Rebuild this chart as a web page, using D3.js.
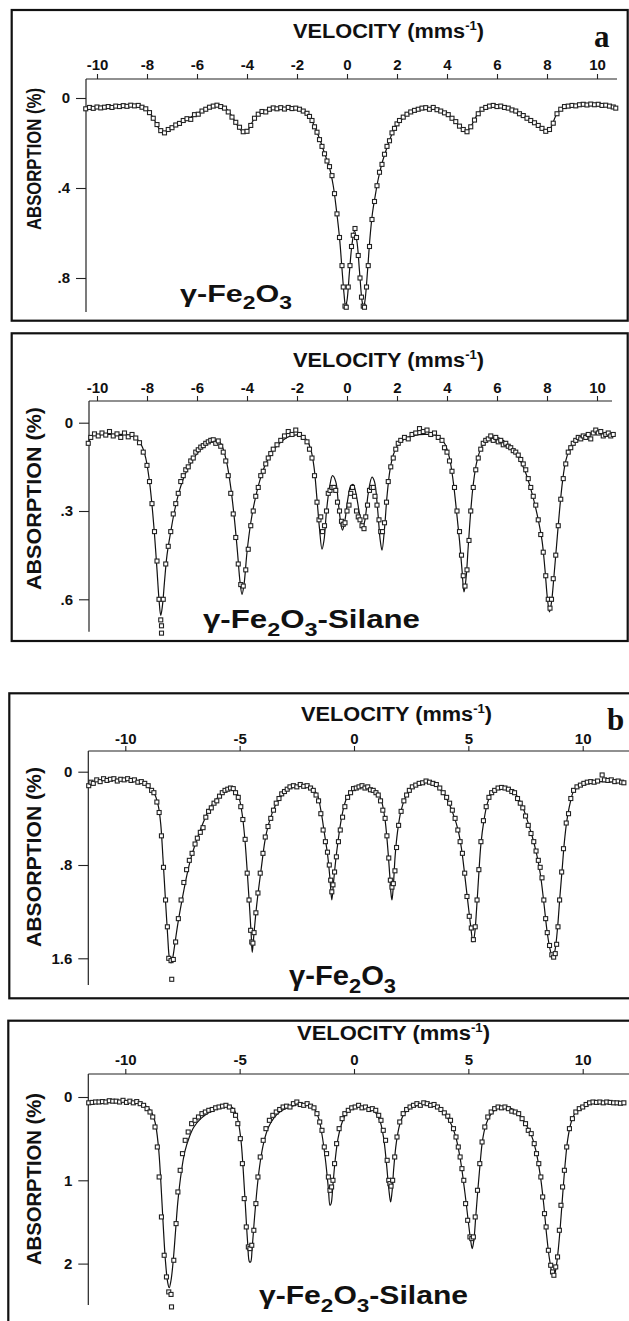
<!DOCTYPE html>
<html>
<head>
<meta charset="utf-8">
<script src="https://cdn.jsdelivr.net/npm/d3@7"></script>
<style>
  html, body { margin: 0; padding: 0; background: #fff; }
  svg { display: block; }
  text { font-family: "Liberation Sans", Arial, sans-serif; font-weight: bold; fill: #111; }
  .letter { font-family: "Liberation Serif", "Times New Roman", serif; }
</style>
</head>
<body>
<svg id="chart" width="629" height="1321"></svg>
<script>
// tick values
const velTicksA = [-10, -8, -6, -4, -2, 0, 2, 4, 6, 8, 10];
const velTicksB = [-10, -5, 0, 5, 10];
const absTicksA1 = [0, 0.4, 0.8];
const absTicksA2 = [0, 0.3, 0.6];
const absTicksB1 = [0, 0.8, 1.6];
const absTicksB2 = [0, 1, 2];

// (a) gamma-Fe2O3 : fitted curve and measured points, [velocity mm/s, absorption %]
const fitA1 = [[-10.45,.045],[-10,.043],[-9.5,.04],[-9,.036],[-8.5,.034],[-8.2,.037],[-8,.05],[-7.8,.08],[-7.6,.12],[-7.45,.148],[-7.35,.152],[-7.2,.146],[-7,.13],[-6.7,.11],[-6.4,.094],[-6,.07],[-5.6,.046],[-5.2,.035],[-4.95,.037],[-4.7,.065],[-4.45,.11],[-4.25,.143],[-4.1,.152],[-3.95,.14],[-3.75,.1],[-3.5,.068],[-3.1,.05],[-2.6,.044],[-2.1,.045],[-1.8,.055],[-1.55,.075],[-1.3,.125],[-1.1,.18],[-0.9,.245],[-0.7,.31],[-0.55,.39],[-0.42,.5],[-0.3,.62],[-0.2,.76],[-0.12,.87],[-0.06,.925],[0,.9],[0.1,.77],[0.2,.65],[0.3,.59],[0.4,.64],[0.5,.77],[0.6,.9],[0.66,.93],[0.72,.9],[0.82,.77],[0.92,.62],[1.02,.51],[1.12,.44],[1.25,.36],[1.4,.29],[1.6,.22],[1.8,.16],[2.0,.12],[2.3,.083],[2.7,.056],[3.2,.045],[3.6,.05],[4.0,.07],[4.3,.1],[4.55,.132],[4.75,.15],[4.95,.128],[5.15,.085],[5.4,.05],[5.8,.035],[6.2,.04],[6.6,.055],[7.0,.08],[7.4,.105],[7.8,.135],[8.0,.146],[8.15,.132],[8.35,.08],[8.6,.045],[9.0,.035],[9.5,.03],[10,.03],[10.4,.035],[10.8,.045]];
const ptsA1 = [[-10.45,.048],[-10.3,.042],[-10.15,.046],[-10,.04],[-9.85,.044],[-9.7,.041],[-9.55,.038],[-9.4,.042],[-9.25,.036],[-9.1,.038],[-8.95,.034],[-8.8,.037],[-8.65,.032],[-8.5,.035],[-8.35,.033],[-8.2,.041],[-8.05,.048],[-7.9,.065],[-7.75,.09],[-7.6,.118],[-7.45,.145],[-7.3,.155],[-7.15,.14],[-7,.132],[-6.85,.12],[-6.7,.113],[-6.55,.1],[-6.4,.092],[-6.25,.095],[-6.1,.074],[-5.95,.072],[-5.8,.058],[-5.65,.05],[-5.5,.041],[-5.35,.036],[-5.2,.032],[-5.05,.038],[-4.9,.045],[-4.75,.062],[-4.6,.085],[-4.45,.108],[-4.3,.13],[-4.15,.15],[-4,.148],[-3.85,.122],[-3.7,.09],[-3.55,.072],[-3.4,.06],[-3.25,.062],[-3.1,.05],[-2.95,.044],[-2.8,.048],[-2.65,.043],[-2.5,.049],[-2.35,.042],[-2.2,.047],[-2.05,.045],[-1.9,.05],[-1.75,.058],[-1.6,.068],[-1.5,.082],[-1.4,.1],[-1.3,.128],[-1.2,.152],[-1.1,.185],[-1,.215],[-0.9,.248],[-0.8,.28],[-0.7,.305],[-0.6,.345],[-0.5,.425],[-0.4,.515],[-0.3,.62],[-0.2,.745],[-0.15,.84],[-0.08,.925],[-0.03,.93],[0.05,.84],[0.12,.745],[0.18,.66],[0.25,.61],[0.32,.58],[0.38,.62],[0.45,.7],[0.52,.8],[0.58,.885],[0.65,.925],[0.7,.93],[0.78,.84],[0.85,.745],[0.9,.66],[1,.54],[1.1,.46],[1.2,.39],[1.3,.33],[1.4,.295],[1.5,.25],[1.6,.215],[1.7,.19],[1.8,.155],[1.9,.135],[2,.115],[2.1,.1],[2.25,.085],[2.4,.072],[2.55,.062],[2.7,.055],[2.85,.05],[3,.045],[3.15,.043],[3.3,.05],[3.45,.042],[3.6,.052],[3.75,.058],[3.9,.066],[4.05,.074],[4.2,.09],[4.35,.105],[4.5,.125],[4.65,.14],[4.8,.15],[4.95,.128],[5.1,.098],[5.25,.07],[5.4,.05],[5.55,.042],[5.7,.036],[5.85,.033],[6,.038],[6.15,.036],[6.3,.042],[6.45,.045],[6.6,.053],[6.75,.058],[6.9,.07],[7.05,.078],[7.2,.09],[7.35,.1],[7.5,.11],[7.65,.122],[7.8,.135],[7.95,.148],[8.1,.14],[8.25,.112],[8.4,.07],[8.55,.05],[8.7,.038],[8.85,.036],[9,.033],[9.15,.035],[9.3,.03],[9.45,.028],[9.6,.031],[9.75,.027],[9.9,.03],[10.05,.028],[10.2,.033],[10.35,.032],[10.5,.036],[10.65,.04],[10.75,.045]];

// (a) gamma-Fe2O3-Silane
const fitA2 = [[-10.35,.07],[-10.2,.045],[-9.8,.04],[-9.2,.04],[-8.7,.042],[-8.4,.055],[-8.2,.08],[-8.05,.12],[-7.9,.2],[-7.8,.28],[-7.7,.38],[-7.6,.5],[-7.52,.6],[-7.45,.655],[-7.38,.62],[-7.3,.54],[-7.2,.45],[-7.05,.37],[-6.9,.3],[-6.7,.23],[-6.5,.18],[-6.2,.13],[-5.9,.095],[-5.6,.072],[-5.3,.06],[-5.1,.065],[-4.95,.09],[-4.8,.14],[-4.65,.22],[-4.5,.33],[-4.38,.44],[-4.28,.54],[-4.2,.583],[-4.12,.55],[-4,.44],[-3.85,.34],[-3.7,.27],[-3.5,.2],[-3.3,.15],[-3,.1],[-2.7,.07],[-2.4,.05],[-2.1,.042],[-1.8,.045],[-1.6,.06],[-1.45,.09],[-1.32,.15],[-1.2,.26],[-1.1,.36],[-1,.43],[-0.92,.4],[-0.82,.3],[-0.7,.22],[-0.58,.18],[-0.45,.2],[-0.35,.27],[-0.25,.34],[-0.18,.365],[-0.08,.33],[0.05,.25],[0.15,.215],[0.25,.21],[0.38,.25],[0.5,.31],[0.62,.36],[0.72,.33],[0.85,.24],[1,.185],[1.1,.2],[1.22,.29],[1.33,.4],[1.4,.433],[1.5,.36],[1.6,.25],[1.72,.16],[1.85,.11],[2,.08],[2.3,.055],[2.7,.043],[3.2,.04],[3.6,.045],[3.9,.07],[4.1,.12],[4.25,.2],[4.38,.3],[4.5,.4],[4.6,.5],[4.68,.575],[4.76,.53],[4.85,.42],[4.95,.3],[5.05,.21],[5.2,.13],[5.4,.08],[5.7,.055],[6,.05],[6.4,.07],[6.8,.11],[7.1,.16],[7.4,.24],[7.6,.31],[7.8,.4],[7.92,.5],[8.02,.6],[8.1,.643],[8.18,.61],[8.28,.52],[8.38,.42],[8.5,.3],[8.62,.2],[8.75,.13],[8.95,.08],[9.2,.055],[9.6,.04],[10,.035],[10.7,.04]];
const ptsA2 = [[-10.35,.07],[-10.25,.05],[-10.1,.038],[-9.95,.045],[-9.8,.035],[-9.65,.042],[-9.5,.03],[-9.35,.045],[-9.2,.038],[-9.05,.05],[-8.9,.035],[-8.75,.048],[-8.6,.04],[-8.45,.052],[-8.3,.068],[-8.15,.1],[-8,.145],[-7.9,.2],[-7.8,.275],[-7.7,.37],[-7.6,.47],[-7.52,.6],[-7.45,.67],[-7.42,.69],[-7.42,.715],[-7.35,.6],[-7.25,.48],[-7.15,.42],[-7.05,.37],[-6.95,.31],[-6.85,.275],[-6.75,.24],[-6.65,.2],[-6.55,.18],[-6.45,.16],[-6.35,.15],[-6.25,.13],[-6.15,.12],[-6.05,.1],[-5.95,.092],[-5.85,.083],[-5.75,.078],[-5.65,.07],[-5.55,.065],[-5.45,.06],[-5.35,.058],[-5.25,.07],[-5.15,.062],[-5.05,.08],[-4.95,.1],[-4.85,.13],[-4.75,.18],[-4.65,.24],[-4.55,.31],[-4.45,.39],[-4.35,.48],[-4.25,.55],[-4.15,.555],[-4.05,.5],[-3.95,.43],[-3.85,.35],[-3.75,.3],[-3.65,.25],[-3.55,.22],[-3.45,.18],[-3.35,.165],[-3.25,.14],[-3.15,.12],[-3.05,.105],[-2.95,.09],[-2.8,.075],[-2.65,.06],[-2.5,.045],[-2.35,.03],[-2.2,.04],[-2.05,.025],[-1.9,.04],[-1.75,.05],[-1.6,.065],[-1.5,.09],[-1.4,.12],[-1.3,.18],[-1.2,.27],[-1.12,.33],[-1.05,.32],[-0.98,.37],[-0.9,.35],[-0.82,.3],[-0.75,.24],[-0.68,.23],[-0.6,.22],[-0.52,.22],[-0.45,.23],[-0.38,.27],[-0.3,.3],[-0.22,.335],[-0.15,.345],[-0.08,.34],[0,.3],[0.08,.28],[0.15,.24],[0.22,.22],[0.3,.25],[0.38,.3],[0.45,.32],[0.52,.33],[0.6,.35],[0.68,.36],[0.75,.32],[0.82,.28],[0.9,.23],[0.98,.22],[1.05,.22],[1.12,.25],[1.2,.28],[1.28,.33],[1.35,.37],[1.42,.37],[1.5,.34],[1.58,.27],[1.65,.2],[1.75,.15],[1.85,.12],[1.95,.09],[2.05,.07],[2.15,.06],[2.3,.05],[2.45,.055],[2.6,.04],[2.75,.035],[2.9,.02],[3.05,.03],[3.2,.025],[3.35,.04],[3.5,.035],[3.65,.05],[3.8,.06],[3.9,.085],[4,.1],[4.1,.13],[4.2,.165],[4.3,.22],[4.4,.3],[4.5,.37],[4.58,.45],[4.65,.52],[4.72,.555],[4.8,.5],[4.88,.4],[4.95,.3],[5.05,.22],[5.15,.16],[5.25,.12],[5.35,.09],[5.45,.07],[5.55,.06],[5.65,.055],[5.75,.045],[5.85,.06],[5.95,.05],[6.05,.065],[6.15,.06],[6.25,.075],[6.35,.07],[6.45,.08],[6.55,.085],[6.65,.095],[6.75,.1],[6.85,.11],[6.95,.125],[7.05,.14],[7.15,.16],[7.25,.19],[7.35,.22],[7.45,.25],[7.55,.28],[7.65,.33],[7.75,.38],[7.85,.44],[7.95,.52],[8.05,.6],[8.12,.63],[8.18,.6],[8.25,.53],[8.35,.45],[8.45,.35],[8.55,.26],[8.65,.19],[8.75,.14],[8.85,.1],[8.95,.085],[9.05,.07],[9.15,.06],[9.25,.05],[9.35,.055],[9.45,.045],[9.55,.05],[9.65,.04],[9.75,.055],[9.85,.035],[9.95,.025],[10.05,.035],[10.15,.03],[10.25,.045],[10.35,.04],[10.45,.035],[10.55,.045],[10.65,.04]];

// (b) gamma-Fe2O3
const fitB1 = [[-11.6,.11],[-11.3,.08],[-10.8,.07],[-10.2,.065],[-9.6,.075],[-9.2,.1],[-8.9,.15],[-8.7,.2],[-8.55,.3],[-8.45,.45],[-8.35,.75],[-8.25,1.08],[-8.15,1.4],[-8.07,1.6],[-8,1.64],[-7.93,1.6],[-7.85,1.5],[-7.7,1.3],[-7.5,1.08],[-7.3,.88],[-7.1,.72],[-6.85,.57],[-6.6,.44],[-6.3,.31],[-6,.23],[-5.7,.17],[-5.45,.145],[-5.25,.15],[-5.05,.21],[-4.9,.35],[-4.78,.56],[-4.67,.85],[-4.58,1.12],[-4.5,1.38],[-4.45,1.55],[-4.4,1.45],[-4.3,1.23],[-4.2,1.05],[-4.05,.82],[-3.9,.6],[-3.75,.46],[-3.55,.34],[-3.3,.24],[-3,.17],[-2.7,.135],[-2.3,.12],[-2,.125],[-1.8,.15],[-1.6,.2],[-1.45,.33],[-1.3,.52],[-1.15,.72],[-1.05,.92],[-0.97,1.1],[-0.9,.96],[-0.8,.76],[-0.7,.6],[-0.6,.46],[-0.5,.35],[-0.35,.24],[-0.15,.17],[0.1,.13],[0.4,.125],[0.7,.14],[1,.17],[1.2,.25],[1.35,.4],[1.47,.64],[1.56,.88],[1.62,1.05],[1.66,1.1],[1.72,.98],[1.8,.72],[1.9,.52],[2.05,.34],[2.25,.22],[2.5,.14],[2.9,.1],[3.3,.09],[3.6,.12],[3.85,.17],[4.1,.25],[4.35,.37],[4.55,.5],[4.7,.66],[4.85,.9],[4.98,1.12],[5.1,1.32],[5.2,1.46],[5.27,1.4],[5.36,1.18],[5.45,.9],[5.55,.62],[5.68,.42],[5.82,.28],[6,.19],[6.3,.14],[6.55,.13],[6.8,.15],[7.1,.2],[7.35,.29],[7.6,.43],[7.8,.56],[8,.72],[8.15,.88],[8.3,1.12],[8.45,1.38],[8.58,1.53],[8.7,1.6],[8.8,1.52],[8.9,1.34],[9,1.08],[9.1,.84],[9.2,.6],[9.3,.43],[9.45,.27],[9.6,.17],[9.9,.115],[10.4,.09],[11,.085],[11.8,.09]];
const ptsB1 = [[-11.6,.12],[-11.5,.09],[-11.4,.1],[-11.25,.07],[-11.1,.085],[-10.95,.06],[-10.8,.075],[-10.65,.065],[-10.5,.06],[-10.35,.08],[-10.2,.065],[-10.05,.07],[-9.9,.06],[-9.75,.075],[-9.6,.07],[-9.45,.09],[-9.3,.085],[-9.15,.1],[-9,.12],[-8.85,.16],[-8.75,.18],[-8.62,.26],[-8.52,.35],[-8.42,.55],[-8.33,.82],[-8.24,1.1],[-8.16,1.33],[-8.1,1.6],[-8,1.62],[-7.97,1.78],[-7.9,1.61],[-7.8,1.46],[-7.68,1.26],[-7.56,1.1],[-7.44,.95],[-7.32,.84],[-7.2,.76],[-7.08,.7],[-6.95,.62],[-6.85,.57],[-6.72,.52],[-6.6,.48],[-6.48,.39],[-6.36,.34],[-6.24,.31],[-6.12,.27],[-6,.25],[-5.88,.21],[-5.76,.18],[-5.64,.16],[-5.52,.15],[-5.4,.14],[-5.28,.145],[-5.18,.18],[-5.06,.22],[-4.95,.3],[-4.86,.41],[-4.76,.58],[-4.67,.87],[-4.59,1.1],[-4.52,1.36],[-4.47,1.46],[-4.42,1.47],[-4.37,1.38],[-4.29,1.21],[-4.2,1.04],[-4.1,.87],[-3.98,.7],[-3.88,.56],[-3.76,.47],[-3.64,.4],[-3.52,.33],[-3.4,.27],[-3.28,.23],[-3.16,.19],[-3.04,.17],[-2.92,.15],[-2.8,.13],[-2.65,.12],[-2.5,.13],[-2.35,.11],[-2.2,.125],[-2.05,.12],[-1.9,.14],[-1.78,.16],[-1.66,.2],[-1.55,.25],[-1.45,.36],[-1.35,.5],[-1.25,.6],[-1.16,.69],[-1.08,.8],[-1.02,.93],[-0.97,1.03],[-0.92,.97],[-0.85,.86],[-0.77,.73],[-0.68,.6],[-0.6,.5],[-0.5,.39],[-0.4,.3],[-0.28,.22],[-0.15,.18],[-0.02,.145],[0.1,.14],[0.22,.13],[0.35,.12],[0.48,.14],[0.6,.13],[0.72,.155],[0.84,.16],[0.96,.18],[1.06,.2],[1.16,.25],[1.26,.33],[1.36,.4],[1.44,.55],[1.52,.74],[1.59,.93],[1.66,.99],[1.72,.96],[1.79,.85],[1.86,.65],[1.95,.46],[2.06,.34],[2.18,.25],[2.3,.2],[2.42,.16],[2.55,.13],[2.7,.115],[2.85,.1],[3,.095],[3.15,.08],[3.3,.09],[3.45,.1],[3.6,.11],[3.75,.14],[3.9,.18],[4.05,.22],[4.18,.27],[4.3,.33],[4.42,.4],[4.54,.5],[4.64,.6],[4.74,.7],[4.84,.87],[4.94,1.07],[5.04,1.24],[5.13,1.34],[5.22,1.44],[5.3,1.33],[5.38,1.1],[5.46,.84],[5.55,.6],[5.66,.42],[5.78,.3],[5.9,.22],[6.02,.18],[6.15,.16],[6.3,.14],[6.45,.135],[6.6,.14],[6.75,.15],[6.9,.17],[7.02,.18],[7.15,.23],[7.27,.27],[7.38,.31],[7.5,.38],[7.62,.46],[7.74,.53],[7.86,.6],[7.96,.68],[8.06,.76],[8.14,.82],[8.22,.91],[8.3,1.1],[8.38,1.26],[8.45,1.38],[8.55,1.49],[8.65,1.57],[8.73,1.59],[8.8,1.56],[8.86,1.48],[8.92,1.33],[8.99,1.1],[9.08,.86],[9.16,.66],[9.28,.44],[9.38,.36],[9.48,.23],[9.6,.16],[9.75,.13],[9.9,.115],[10.05,.1],[10.2,.09],[10.35,.085],[10.5,.09],[10.65,.08],[10.85,.028],[10.95,.07],[11.1,.075],[11.25,.07],[11.4,.085],[11.55,.08],[11.7,.09],[11.8,.095]];

// (b) gamma-Fe2O3-Silane
const fitB2 = [[-11.6,.06],[-11,.05],[-10.2,.05],[-9.6,.06],[-9.2,.09],[-8.9,.16],[-8.7,.3],[-8.55,.6],[-8.45,1],[-8.35,1.5],[-8.25,1.95],[-8.15,2.22],[-8.08,2.29],[-8,2.2],[-7.9,1.95],[-7.8,1.6],[-7.7,1.25],[-7.55,.9],[-7.4,.66],[-7.2,.48],[-7,.36],[-6.7,.26],[-6.3,.18],[-5.9,.13],[-5.5,.11],[-5.3,.13],[-5.1,.25],[-4.95,.5],[-4.85,.85],[-4.75,1.3],[-4.65,1.75],[-4.57,1.98],[-4.52,1.98],[-4.45,1.8],[-4.35,1.45],[-4.22,1.05],[-4.1,.78],[-3.95,.55],[-3.75,.37],[-3.5,.25],[-3.2,.17],[-2.8,.12],[-2.4,.09],[-2,.1],[-1.75,.14],[-1.55,.25],[-1.4,.45],[-1.25,.75],[-1.12,1.1],[-1.05,1.3],[-1,1.28],[-0.92,1.05],[-0.82,.75],[-0.7,.5],[-0.55,.33],[-0.35,.2],[-0.1,.14],[0.3,.12],[0.7,.14],[0.95,.19],[1.15,.3],[1.3,.5],[1.42,.8],[1.52,1.1],[1.6,1.26],[1.66,1.15],[1.74,.85],[1.85,.55],[2,.33],[2.2,.2],[2.5,.13],[3,.09],[3.5,.1],[3.85,.17],[4.2,.3],[4.45,.48],[4.65,.75],[4.85,1.15],[5,1.5],[5.1,1.72],[5.17,1.82],[5.24,1.72],[5.32,1.45],[5.42,1.1],[5.52,.78],[5.62,.52],[5.75,.35],[5.95,.22],[6.3,.13],[6.7,.12],[7.1,.18],[7.4,.28],[7.7,.42],[7.95,.64],[8.15,.95],[8.3,1.3],[8.42,1.65],[8.55,1.95],[8.68,2.12],[8.76,2.13],[8.85,2.02],[8.95,1.78],[9.05,1.45],[9.15,1.08],[9.25,.75],[9.35,.5],[9.5,.3],[9.7,.18],[10,.11],[10.5,.07],[11,.06],[11.8,.07]];
const ptsB2 = [[-11.6,.07],[-11.45,.065],[-11.3,.06],[-11.15,.06],[-11,.055],[-10.85,.06],[-10.7,.045],[-10.55,.05],[-10.4,.05],[-10.25,.06],[-10.1,.04],[-9.95,.065],[-9.8,.05],[-9.65,.07],[-9.5,.055],[-9.35,.08],[-9.2,.1],[-9.05,.14],[-8.92,.18],[-8.8,.24],[-8.7,.36],[-8.6,.6],[-8.52,.96],[-8.42,1.44],[-8.3,1.9],[-8.2,2.16],[-8.1,2.34],[-8,2.37],[-7.98,2.52],[-7.88,1.96],[-7.78,1.52],[-7.7,1.14],[-7.6,.88],[-7.5,.68],[-7.38,.52],[-7.25,.42],[-7.1,.32],[-6.95,.28],[-6.8,.24],[-6.65,.2],[-6.5,.18],[-6.35,.16],[-6.2,.15],[-6.05,.13],[-5.9,.12],[-5.75,.11],[-5.6,.1],[-5.45,.12],[-5.3,.16],[-5.18,.22],[-5.08,.32],[-4.97,.5],[-4.88,.8],[-4.8,1.22],[-4.71,1.56],[-4.62,1.8],[-4.55,1.82],[-4.47,1.78],[-4.38,1.6],[-4.29,1.28],[-4.2,.96],[-4.1,.72],[-3.97,.52],[-3.85,.38],[-3.7,.28],[-3.55,.22],[-3.4,.18],[-3.25,.15],[-3.1,.12],[-2.95,.11],[-2.8,.12],[-2.65,.08],[-2.5,.06],[-2.35,.09],[-2.2,.1],[-2.05,.08],[-1.9,.11],[-1.75,.13],[-1.62,.2],[-1.5,.3],[-1.4,.4],[-1.3,.6],[-1.2,.68],[-1.12,.96],[-1.05,1.12],[-0.98,1.08],[-0.92,1],[-0.85,.8],[-0.76,.56],[-0.65,.38],[-0.52,.26],[-0.4,.2],[-0.25,.16],[-0.1,.13],[0.05,.12],[0.2,.1],[0.35,.13],[0.5,.12],[0.65,.15],[0.8,.14],[0.95,.16],[1.08,.22],[1.18,.28],[1.28,.4],[1.38,.52],[1.45,.76],[1.52,1],[1.57,1.04],[1.62,1.07],[1.69,1],[1.78,.72],[1.88,.48],[2,.3],[2.15,.2],[2.3,.15],[2.45,.12],[2.6,.1],[2.75,.08],[2.9,.1],[3.05,.07],[3.2,.08],[3.35,.1],[3.5,.09],[3.65,.12],[3.8,.15],[3.95,.19],[4.1,.23],[4.22,.28],[4.35,.38],[4.46,.48],[4.56,.6],[4.64,.72],[4.72,.86],[4.8,1],[4.88,1.28],[4.97,1.48],[5.07,1.68],[5.15,1.7],[5.22,1.68],[5.3,1.44],[5.4,1.12],[5.5,.8],[5.6,.54],[5.72,.36],[5.85,.24],[6,.18],[6.15,.14],[6.3,.12],[6.45,.13],[6.6,.12],[6.75,.14],[6.9,.17],[7.05,.18],[7.2,.2],[7.35,.26],[7.5,.32],[7.62,.4],[7.75,.44],[7.88,.56],[7.98,.68],[8.08,.8],[8.17,.96],[8.25,1.2],[8.33,1.4],[8.4,1.56],[8.5,1.84],[8.6,2.02],[8.68,2.1],[8.74,2.14],[8.82,2.04],[8.9,1.92],[8.98,1.6],[9.05,1.3],[9.12,1.08],[9.2,.88],[9.3,.6],[9.42,.38],[9.55,.26],[9.7,.18],[9.85,.14],[10,.12],[10.15,.09],[10.3,.07],[10.45,.06],[10.6,.065],[10.75,.06],[10.9,.07],[11.05,.06],[11.2,.065],[11.35,.07],[11.5,.07],[11.65,.075],[11.8,.07]];

// layout of the four framed panels (pixels)
const panels = [
  { frame: [11.7, 10, 616, 310.7], xr: [97, 597], yd: [0, 0.8], yr: [98, 278],
    ax: { left: 86, right: 617, top: 79, bottom: 312 }, xt: velTicksA, yt: absTicksA1,
    xTickSize: 5, xPad: 4,
    velLabel: { x: 388.5, y: 38, len: 191 }, absLabel: { y: 159, len: 142 },
    name: { x: 180, y: 302, len: 112, size: 24, silane: false },
    fit: fitA1, pts: ptsA1, letter: { t: "a", x: 594, y: 47 } },
  { frame: [11.7, 333.3, 616, 307.7], xr: [97, 597], yd: [0, 0.6], yr: [422.7, 599.3],
    ax: { left: 89, right: 612, top: 401, bottom: 631.7 }, xt: velTicksA, yt: absTicksA2,
    xTickSize: 5, xPad: 3,
    velLabel: { x: 388.5, y: 367, len: 191 }, absLabel: { y: 498.5, len: 183 },
    name: { x: 203, y: 628, len: 217, size: 25, silane: true },
    fit: fitA2, pts: ptsA2 },
  { frame: [9.3, 693.3, 625, 305], xr: [125.3, 582.7], yd: [0, 1.6], yr: [771.7, 958.3],
    ax: { left: 88.3, right: 629, top: 751, bottom: 985 }, xt: velTicksB, yt: absTicksB1,
    xTickSize: 5, xPad: 2,
    velLabel: { x: 396.5, y: 721, len: 191 }, absLabel: { y: 857, len: 180 },
    name: { x: 289, y: 985, len: 107, size: 28, silane: false },
    fit: fitB1, pts: ptsB1, letter: { t: "b", x: 607, y: 730 } },
  { frame: [8.3, 1020.7, 625, 310], xr: [125.3, 582.7], yd: [0, 2], yr: [1097, 1263.6],
    ax: { left: 88.3, right: 629, top: 1074, bottom: 1305 }, xt: velTicksB, yt: absTicksB2,
    xTickSize: 5, xPad: 4,
    velLabel: { x: 393.5, y: 1040, len: 193 }, absLabel: { y: 1179, len: 172 },
    name: { x: 259, y: 1304, len: 209, size: 25, silane: true },
    fit: fitB2, pts: ptsB2 }
];

const svg = d3.select("#chart");
const absFmt = v => v === 0 ? "0" : String(v).replace(/^0\./, ".");

panels.forEach(p => {
  const g = svg.append("g");
  const [fx, fy, fw, fh] = p.frame;

  g.append("rect")
    .attr("x", fx).attr("y", fy).attr("width", fw).attr("height", fh)
    .attr("fill", "none").attr("stroke", "#111").attr("stroke-width", 2.2);

  const x = d3.scaleLinear().domain([-10, 10]).range(p.xr);
  const y = d3.scaleLinear().domain(p.yd).range(p.yr);

  // axis lines
  g.append("line").attr("x1", p.ax.left).attr("x2", p.ax.right)
    .attr("y1", p.ax.top).attr("y2", p.ax.top)
    .attr("stroke", "#222").attr("stroke-width", 1.2);
  g.append("line").attr("x1", p.ax.left).attr("x2", p.ax.left)
    .attr("y1", p.ax.top).attr("y2", p.ax.bottom)
    .attr("stroke", "#222").attr("stroke-width", 1.2);

  const xAxis = g.append("g")
    .attr("transform", `translate(0,${p.ax.top})`)
    .call(d3.axisTop(x).tickValues(p.xt).tickSize(p.xTickSize).tickPadding(p.xPad).tickFormat(d => String(d)));
  const yAxis = g.append("g")
    .attr("transform", `translate(${p.ax.left},0)`)
    .call(d3.axisLeft(y).tickValues(p.yt).tickSize(10).tickPadding(6).tickFormat(absFmt));
  [xAxis, yAxis].forEach(a => {
    a.select(".domain").remove();
    a.selectAll(".tick line").attr("stroke", "#222").attr("stroke-width", 1.1);
    a.selectAll(".tick text")
      .style("font-family", '"Liberation Sans", Arial, sans-serif')
      .style("font-weight", "bold").style("font-size", "15px").attr("fill", "#111");
  });

  // velocity title with superscript
  const vt = g.append("text")
    .attr("x", p.velLabel.x).attr("y", p.velLabel.y)
    .attr("text-anchor", "middle").style("font-size", "20px")
    .attr("textLength", p.velLabel.len).attr("lengthAdjust", "spacingAndGlyphs");
  vt.append("tspan").text("VELOCITY (mms");
  vt.append("tspan").attr("dy", -8).style("font-size", "12px").text("-1");
  vt.append("tspan").attr("dy", 8).text(")");

  g.append("text")
    .attr("transform", `translate(41,${p.absLabel.y}) rotate(-90)`)
    .attr("text-anchor", "middle").style("font-size", "21px")
    .attr("textLength", p.absLabel.len).attr("lengthAdjust", "spacingAndGlyphs")
    .text("ABSORPTION (%)");

  // sample name
  const nt = g.append("text")
    .attr("x", p.name.x).attr("y", p.name.y).style("font-size", p.name.size + "px")
    .attr("textLength", p.name.len).attr("lengthAdjust", "spacingAndGlyphs");
  const sub = Math.round(p.name.size * 0.3);
  nt.append("tspan").text("γ-Fe");
  nt.append("tspan").attr("dy", sub).style("font-size", "0.75em").text("2");
  nt.append("tspan").attr("dy", -sub).text("O");
  nt.append("tspan").attr("dy", sub).style("font-size", "0.75em").text("3");
  if (p.name.silane) nt.append("tspan").attr("dy", -sub).text("-Silane");

  if (p.letter) {
    g.append("text").attr("class", "letter")
      .attr("x", p.letter.x).attr("y", p.letter.y)
      .style("font-size", "31px").text(p.letter.t);
  }

  // fitted curve
  const line = d3.line()
    .x(d => x(d[0])).y(d => y(d[1]))
    .curve(d3.curveCatmullRom.alpha(0.5));
  g.append("path").datum(p.fit)
    .attr("d", line).attr("fill", "none")
    .attr("stroke", "#111").attr("stroke-width", 1.2);

  // measured points
  const s = 4;
  g.append("g").selectAll("rect")
    .data(p.pts)
    .join("rect")
    .attr("x", d => x(d[0]) - s / 2).attr("y", d => y(d[1]) - s / 2)
    .attr("width", s).attr("height", s)
    .attr("fill", "#fff").attr("stroke", "#222").attr("stroke-width", 1.1);
});
</script>
</body>
</html>
